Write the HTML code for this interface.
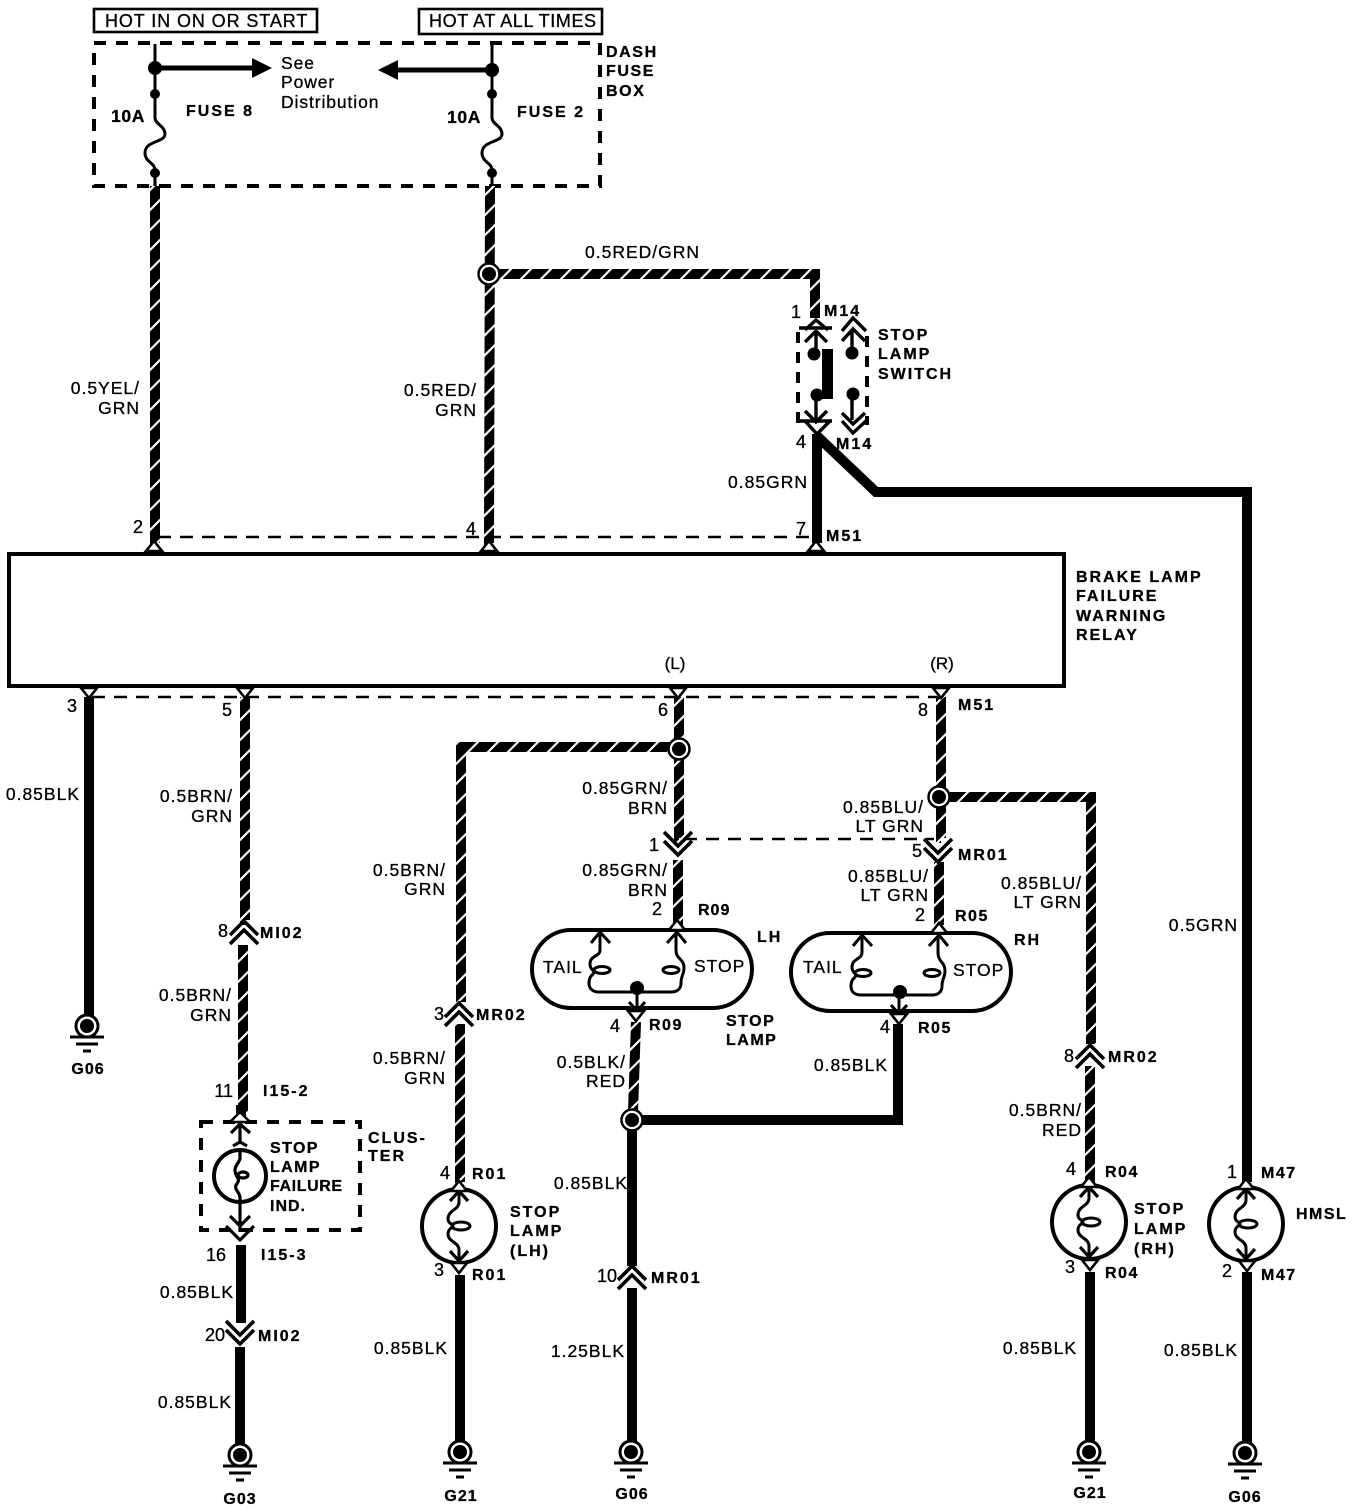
<!DOCTYPE html>
<html><head><meta charset="utf-8"><style>
html,body{margin:0;padding:0;background:#fff}
svg{display:block}
text{font-family:"Liberation Sans",sans-serif;fill:#000;stroke:#000;stroke-width:.3px}
.r{font-size:17.5px;letter-spacing:1px}
.b{font-size:16px;font-weight:bold;letter-spacing:2px}
.m{text-anchor:end}
.n{font-size:18px;text-anchor:end}
</style></head><body>
<svg width="1360" height="1510" viewBox="0 0 1360 1510" xmlns="http://www.w3.org/2000/svg">
<defs>
<pattern id="st" patternUnits="userSpaceOnUse" width="20" height="20">
<rect width="20" height="20" fill="#000"/>
<path d="M-2 22L22 -2M-2 2L2 -2M18 22L22 18" stroke="#fff" stroke-width="2.2"/>
</pattern>
<g id="dchev" fill="none" stroke="#000" stroke-width="3.6"><path d="M-14 7L0 -7L14 7M-14 16L0 2L14 16"/></g>
<g id="dchevd" fill="none" stroke="#000" stroke-width="3.6"><path d="M-14 -16L0 -2L14 -16M-14 -7L0 7L14 -7"/></g>
<g id="gnd"><path d="M-17 11H17" stroke="#000" stroke-width="3"/><circle r="11" fill="#fff" stroke="#000" stroke-width="3"/><circle r="7" fill="#000"/><path d="M-11 18H11" stroke="#000" stroke-width="3"/><path d="M-4 25H4" stroke="#000" stroke-width="3"/></g>
<g id="jct"><circle r="10.500" fill="#fff" stroke="#000" stroke-width="2.5"/><circle r="7" fill="#000"/></g>
<g id="lamp"><circle r="37" fill="#fff" stroke="#000" stroke-width="4"/>
<path d="M0 -38V-24C0 -16 -11 -16 -11 -7C-11 -2 -6 -2 -6 0C-6 2 -11 2 -11 8C-11 16 0 16 0 24V38" fill="none" stroke="#000" stroke-width="3"/>
<ellipse cx="2" cy="0" rx="9" ry="4" fill="none" stroke="#000" stroke-width="3"/>
<path d="M-9 -25L0 -35L9 -25M-9 25L0 35L9 25" fill="none" stroke="#000" stroke-width="3.2"/>
</g>
<g id="triu"><path d="M-8 4L0 -6L8 4Z" fill="#fff" stroke="#000" stroke-width="2.6"/></g>
<g id="trid"><path d="M-8 -4L0 6L8 -4Z" fill="#fff" stroke="#000" stroke-width="2.6"/></g>
</defs>

<!-- header boxes -->
<rect x="94" y="9" width="223" height="23" fill="none" stroke="#000" stroke-width="2.6"/>
<rect x="419" y="9" width="183" height="25" fill="none" stroke="#000" stroke-width="2.6"/>
<text class="r" x="105" y="27" style="font-size:18px;letter-spacing:.9px">HOT IN ON OR START</text>
<text class="r" x="429" y="27" style="font-size:18px;letter-spacing:.6px">HOT AT ALL TIMES</text>
<rect x="94" y="43" width="506" height="143" fill="none" stroke="#000" stroke-width="4" stroke-dasharray="12 10"/>
<text class="b" x="606" y="57" style="letter-spacing:1.6px">DASH</text><text class="b" x="606" y="76" style="letter-spacing:1.6px">FUSE</text><text class="b" x="606" y="96" style="letter-spacing:1.6px">BOX</text>

<!-- fuses -->
<g fill="none" stroke="#000" stroke-width="3">
<path d="M155 44V118C155 124 165 126 165 134C165 143 145 140 145 153C145 162 155 163 155 170V186"/>
<path d="M492 44V118C492 124 502 126 502 134C502 143 482 140 482 153C482 162 492 163 492 170V186"/>
</g>
<g fill="#000">
<circle cx="155" cy="68" r="7"/><circle cx="155" cy="94" r="5"/><circle cx="155" cy="173" r="5"/>
<circle cx="492" cy="70" r="7"/><circle cx="492" cy="94" r="5"/><circle cx="492" cy="173" r="5"/>
<path d="M155 65.500H252V58L272 68L252 78V70.500H155Z"/>
<path d="M492 67.500H398V60L378 70L398 80V72.500H492Z"/>
</g>
<text x="281" y="69" style="font-size:17.5px;letter-spacing:.9px">See</text>
<text x="281" y="88" style="font-size:17.5px;letter-spacing:.9px">Power</text>
<text x="281" y="108" style="font-size:17.5px;letter-spacing:.9px">Distribution</text>
<text class="b" x="186" y="116">FUSE 8</text><text class="b" x="517" y="117">FUSE 2</text>
<text class="b m" x="145" y="122" style="font-size:17.5px;letter-spacing:.6px">10A</text><text class="b m" x="481" y="123" style="font-size:17.5px;letter-spacing:.6px">10A</text>

<!-- striped wires -->
<g fill="none" stroke="url(#st)" stroke-width="10">
<polyline points="155,186 155,543 155.010,543"/>
<polyline points="490,186 489,543 489.010,543"/>
<polyline points="490,274 815,274 815,318"/>
<polyline points="245,697 245,920 245.010,920"/>
<polyline points="243,945 243,1112 243.010,1112"/>
<polyline points="679,697 679,838 679.010,838"/>
<polyline points="678,860 678,925 678.010,925"/>
<polyline points="679,747 461,747 461,1002"/>
<polyline points="460,1024 460,1182 460.010,1182"/>
<polyline points="636,1022 633,1112"/>
<polyline points="941,697 941,838 941.010,838"/>
<polyline points="939,862 939,925 939.010,925"/>
<polyline points="941,797 1091,797 1091,1044"/>
<polyline points="1090,1066 1090,1184 1090.010,1184"/>
</g>
<!-- solid wires -->
<g fill="none" stroke="#000" stroke-width="10">
<path d="M817 434V543"/>
<path d="M817 436L876 492H1247V1182"/>
<path d="M89 697V1016"/>
<path d="M241 1245V1323"/>
<path d="M240 1347V1446"/>
<path d="M460 1275V1442"/>
<path d="M632 1122V1266"/>
<path d="M632 1288V1442"/>
<path d="M632 1120H898V1024"/>
<path d="M1090 1272V1442"/>
<path d="M1247 1272V1444"/>
</g>

<!-- dashed bus lines -->
<path d="M158 537H812" stroke="#000" stroke-width="2.4" stroke-dasharray="13 9" fill="none"/>
<path d="M92 697H938" stroke="#000" stroke-width="2.4" stroke-dasharray="13 9" fill="none"/>
<path d="M684 839H934" stroke="#000" stroke-width="2.4" stroke-dasharray="13 9" fill="none"/>

<!-- relay -->
<rect x="9" y="554" width="1055" height="132" fill="#fff" stroke="#000" stroke-width="4"/>
<use href="#triu" x="154" y="547"/><use href="#triu" x="489" y="547"/><use href="#triu" x="816" y="547"/>
<use href="#trid" x="89" y="692"/><use href="#trid" x="245" y="692"/><use href="#trid" x="678" y="692"/><use href="#trid" x="941" y="692"/>
<text class="b" x="1076" y="582">BRAKE LAMP</text><text class="b" x="1076" y="601">FAILURE</text><text class="b" x="1076" y="621">WARNING</text><text class="b" x="1076" y="640">RELAY</text>
<text x="675" y="669" text-anchor="middle" style="font-size:17px">(L)</text><text x="942" y="669" text-anchor="middle" style="font-size:17px">(R)</text>

<!-- junctions -->
<use href="#jct" x="489" y="274"/><use href="#jct" x="679" y="749"/><use href="#jct" x="939" y="797"/><use href="#jct" x="632" y="1120"/>

<!-- stop lamp switch -->
<path d="M798 332V425M867 336V425" stroke="#000" stroke-width="4" stroke-dasharray="11 9" fill="none"/>
<path d="M799 328H832M799 421H832" stroke="#000" stroke-width="3.4" fill="none"/>
<g fill="none" stroke="#000" stroke-width="3.4">
<path d="M805 330L816 320L828 330"/><path d="M805 342L816 331L827 342"/><path d="M816 331V352"/>
<path d="M842 331L853 318L866 331M842 341L853 329L865 341"/><path d="M852 330V352"/>
<path d="M816 395V420M805 411L816 422L827 411"/><path d="M852 395V420M842 413L853 424L865 413"/>
<path d="M805 421L817 434L830 421M842 421L853 433L866 421"/>
</g>
<g fill="#000"><circle cx="814" cy="354" r="6.500"/><circle cx="852" cy="353" r="6.500"/><circle cx="817" cy="395" r="6.500"/><circle cx="853" cy="394" r="6.500"/><rect x="822" y="349" width="11" height="50"/></g>
<text class="b" x="878" y="340">STOP</text><text class="b" x="878" y="359">LAMP</text><text class="b" x="878" y="379">SWITCH</text>
<text class="b" x="824" y="316">M14</text><text class="n" x="801" y="318">1</text>
<text class="b" x="836" y="449">M14</text><text class="n" x="806" y="448">4</text>
<text class="b" x="826" y="541">M51</text>
<text class="r m" x="808" y="488">0.85GRN</text>

<!-- wire labels top -->
<text class="r" x="585" y="258">0.5RED/GRN</text>
<text class="r m" x="140" y="394">0.5YEL/</text><text class="r m" x="140" y="414">GRN</text>
<text class="r m" x="477" y="396">0.5RED/</text><text class="r m" x="477" y="416">GRN</text>
<text class="n" x="143" y="533">2</text><text class="n" x="476" y="535">4</text><text class="n" x="806" y="535">7</text>

<!-- left column -->
<text class="n" x="77" y="712">3</text><text class="n" x="232" y="716">5</text><text class="n" x="668" y="716">6</text><text class="n" x="928" y="716">8</text>
<text class="b" x="958" y="710">M51</text>
<text class="r m" x="80" y="800">0.85BLK</text>
<text class="r m" x="233" y="802">0.5BRN/</text><text class="r m" x="233" y="822">GRN</text>
<use href="#dchev" x="244" y="928"/><text class="n" x="228" y="937">8</text><text class="b" x="260" y="938">MI02</text>
<text class="r m" x="232" y="1001">0.5BRN/</text><text class="r m" x="232" y="1021">GRN</text>
<text class="n" x="233" y="1097">11</text><text class="b" x="263" y="1096">I15-2</text>

<!-- cluster -->
<rect x="201" y="1122" width="159" height="108" fill="none" stroke="#000" stroke-width="4" stroke-dasharray="12 10"/>
<path d="M241 1105V1122" stroke="#000" stroke-width="10"/>
<path d="M230 1122L240 1112L250 1122Z" fill="#fff" stroke="#000" stroke-width="2.5"/>
<g fill="none" stroke="#000" stroke-width="3.2">
<path d="M231 1133L240 1124L250 1133"/><path d="M240 1124V1144"/>
<circle cx="240" cy="1176" r="26" fill="#fff" stroke-width="4"/>
<path d="M240 1148V1158C240 1162 235 1165 235 1170C235 1178 242 1178 236 1185C234 1190 240 1192 240 1198V1232"/>
<ellipse cx="243" cy="1175" rx="5" ry="3"/>
<path d="M233 1146L240 1142L247 1146"/>
<path d="M230 1216L240 1226L250 1216"/><path d="M226 1226L240 1240L254 1226"/>
</g>
<text class="b" x="270" y="1153" style="letter-spacing:1.4px">STOP</text><text class="b" x="270" y="1172" style="letter-spacing:1.4px">LAMP</text><text class="b" x="270" y="1191" style="letter-spacing:.6px">FAILURE</text><text class="b" x="270" y="1211" style="letter-spacing:1px">IND.</text>
<text class="b" x="368" y="1143">CLUS-</text><text class="b" x="368" y="1161">TER</text>
<text class="n" x="226" y="1261">16</text><text class="b" x="261" y="1260">I15-3</text>
<text class="r m" x="234" y="1298">0.85BLK</text>
<use href="#dchevd" x="240" y="1337"/><text class="n" x="225" y="1341">20</text><text class="b" x="258" y="1341">MI02</text>
<text class="r m" x="232" y="1408">0.85BLK</text>
<use href="#gnd" x="240" y="1455"/><text class="b" x="240" y="1504" text-anchor="middle" style="letter-spacing:1px">G03</text>
<use href="#gnd" x="87" y="1026"/><text class="b" x="88" y="1074" text-anchor="middle" style="letter-spacing:1px">G06</text>

<!-- stop lamp LH -->
<text class="r m" x="446" y="876">0.5BRN/</text><text class="r m" x="446" y="895">GRN</text>
<use href="#dchev" x="459" y="1010"/><text class="n" x="444" y="1020">3</text><text class="b" x="476" y="1020">MR02</text>
<text class="r m" x="446" y="1064">0.5BRN/</text><text class="r m" x="446" y="1084">GRN</text>
<text class="n" x="450" y="1179">4</text><text class="b" x="472" y="1179">R01</text>
<use href="#lamp" x="459" y="1226"/><use href="#triu" x="459" y="1187"/><use href="#trid" x="459" y="1267"/>
<text class="b" x="510" y="1217">STOP</text><text class="b" x="510" y="1236">LAMP</text><text class="b" x="510" y="1256">(LH)</text>
<text class="n" x="444" y="1276">3</text><text class="b" x="472" y="1280">R01</text>
<text class="r m" x="448" y="1354">0.85BLK</text>
<use href="#gnd" x="460" y="1452"/><text class="b" x="461" y="1501" text-anchor="middle" style="letter-spacing:1px">G21</text>

<!-- center column -->
<text class="r m" x="668" y="794">0.85GRN/</text><text class="r m" x="668" y="814">BRN</text>
<use href="#dchevd" x="678" y="848"/><text class="n" x="659" y="851">1</text>
<text class="r m" x="668" y="876">0.85GRN/</text><text class="r m" x="668" y="896">BRN</text>
<text class="n" x="662" y="915">2</text><text class="b" x="698" y="915" style="letter-spacing:1px">R09</text>

<!-- pills -->
<rect x="532" y="930" width="220" height="78" rx="39" fill="#fff" stroke="#000" stroke-width="4"/>
<rect x="791" y="933" width="220" height="78" rx="39" fill="#fff" stroke="#000" stroke-width="4"/>
<g fill="none" stroke="#000" stroke-width="3">
<path d="M600 934V950C600 957 590 955 590 964C590 970 594 970 594 972C594 975 589 975 589 983C589 989 593 992 599 992H671C677 992 681 989 681 983C681 976 684 974 684 968C684 958 676 960 676 950V934"/>
<path d="M862 937V952C862 960 852 958 852 967C852 973 856 973 856 975C856 978 851 978 851 986C851 992 855 995 861 995H932C938 995 942 992 942 986C942 979 945 977 945 971C945 961 938 963 938 952V937"/>
<ellipse cx="602" cy="970" rx="8" ry="3.500"/><ellipse cx="671" cy="970" rx="8" ry="3.500"/>
<ellipse cx="863" cy="973" rx="8" ry="3.500"/><ellipse cx="932" cy="973" rx="8" ry="3.500"/>
<path d="M591 943L600 932L610 943M667 943L677 932L686 943M853 946L862 935L872 946M929 946L939 935L948 946"/>
<path d="M637 992V1010M629 1002L637 1011L645 1002"/>
<path d="M899 995V1012M891 1005L899 1014L907 1005"/>
</g>
<circle cx="637" cy="988" r="7" fill="#000"/><circle cx="900" cy="992" r="7" fill="#000"/>
<use href="#triu" x="677" y="926"/><use href="#triu" x="939" y="929"/>
<use href="#trid" x="636" y="1015"/><use href="#trid" x="899" y="1018"/>
<text class="r" x="543" y="973">TAIL</text><text class="r" x="694" y="972">STOP</text>
<text class="r" x="803" y="973">TAIL</text><text class="r" x="953" y="976">STOP</text>
<text class="b" x="757" y="942">LH</text><text class="b" x="1014" y="945">RH</text>
<text class="n" x="620" y="1032">4</text><text class="b" x="649" y="1030" style="letter-spacing:1.5px">R09</text>
<text class="b" x="726" y="1026" style="letter-spacing:1.5px">STOP</text><text class="b" x="726" y="1045" style="letter-spacing:1.5px">LAMP</text>
<text class="r m" x="626" y="1068">0.5BLK/</text><text class="r m" x="626" y="1087">RED</text>
<text class="n" x="890" y="1033">4</text><text class="b" x="918" y="1033" style="letter-spacing:1.5px">R05</text>
<text class="r m" x="888" y="1071">0.85BLK</text>
<text class="r m" x="628" y="1189">0.85BLK</text>
<use href="#dchev" x="632" y="1273"/><text class="n" x="617" y="1282">10</text><text class="b" x="651" y="1283">MR01</text>
<text class="r m" x="625" y="1357">1.25BLK</text>
<use href="#gnd" x="631" y="1452"/><text class="b" x="632" y="1499" text-anchor="middle" style="letter-spacing:1px">G06</text>

<!-- right of center -->
<text class="r m" x="924" y="813">0.85BLU/</text><text class="r m" x="924" y="832">LT GRN</text>
<use href="#dchevd" x="938" y="855"/><text class="n" x="922" y="857">5</text><text class="b" x="958" y="860">MR01</text>
<text class="r m" x="929" y="882">0.85BLU/</text><text class="r m" x="929" y="901">LT GRN</text>
<text class="n" x="925" y="921">2</text><text class="b" x="955" y="921" style="letter-spacing:1.5px">R05</text>

<!-- RH lamp column -->
<text class="r m" x="1082" y="889">0.85BLU/</text><text class="r m" x="1082" y="908">LT GRN</text>
<use href="#dchev" x="1090" y="1052"/><text class="n" x="1074" y="1062">8</text><text class="b" x="1108" y="1062">MR02</text>
<text class="r m" x="1082" y="1116">0.5BRN/</text><text class="r m" x="1082" y="1136">RED</text>
<text class="n" x="1076" y="1175">4</text><text class="b" x="1105" y="1177" style="letter-spacing:1.5px">R04</text>
<use href="#lamp" x="1089" y="1222"/><use href="#triu" x="1089" y="1183"/><use href="#trid" x="1090" y="1264"/>
<text class="b" x="1134" y="1214">STOP</text><text class="b" x="1134" y="1234">LAMP</text><text class="b" x="1134" y="1254">(RH)</text>
<text class="n" x="1075" y="1273">3</text><text class="b" x="1105" y="1278" style="letter-spacing:1.5px">R04</text>
<text class="r m" x="1077" y="1354">0.85BLK</text>
<use href="#gnd" x="1089" y="1452"/><text class="b" x="1090" y="1498" text-anchor="middle" style="letter-spacing:1px">G21</text>

<!-- HMSL -->
<text class="r m" x="1238" y="931">0.5GRN</text>
<text class="n" x="1237" y="1178">1</text><text class="b" x="1261" y="1178" style="letter-spacing:1.5px">M47</text>
<use href="#lamp" x="1246" y="1224"/><use href="#triu" x="1246" y="1185"/><use href="#trid" x="1247" y="1265"/>
<text class="b" x="1296" y="1219" style="letter-spacing:1.5px">HMSL</text>
<text class="n" x="1232" y="1277">2</text><text class="b" x="1261" y="1280" style="letter-spacing:1.5px">M47</text>
<text class="r m" x="1238" y="1356">0.85BLK</text>
<use href="#gnd" x="1245" y="1453"/><text class="b" x="1245" y="1502" text-anchor="middle" style="letter-spacing:1px">G06</text>
</svg>
</body></html>
